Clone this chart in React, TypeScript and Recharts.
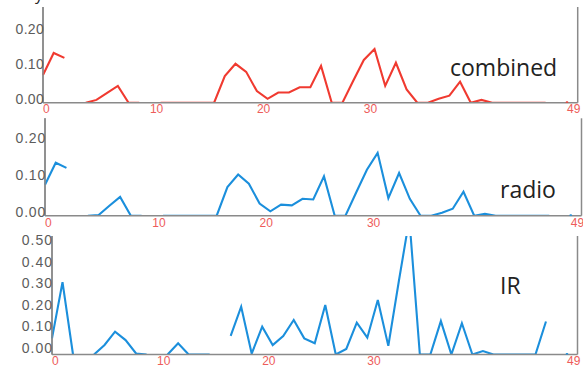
import React from "react";
import { LineChart, Line, XAxis, YAxis, ReferenceLine } from "recharts";

// x categories (sample index 0..49)
const indices: number[] = Array.from({ length: 50 }, (_, i) => i);
const xTicks = [0, 10, 20, 30, 49];
const yTicksSmall = [0, 0.1, 0.2];
const yTicksIR = [0, 0.1, 0.2, 0.3, 0.4, 0.5];

const combined: (number | null)[] = [
  0.079, 0.142, 0.128, null, 0, 0.008, 0.028, 0.048, 0, 0,
  null, 0, 0, 0, 0, 0, 0, 0.076, 0.111, 0.088,
  0.033, 0.011, 0.029, 0.029, 0.044, 0.044, 0.105, 0, 0, 0.062,
  0.122, 0.153, 0.048, 0.114, 0.038, 0, 0, 0.011, 0.02, 0.06,
  0, 0.008, 0, 0, 0, 0, 0, 0, null, 0,
];

const radio: (number | null)[] = [
  0.084, 0.144, 0.13, null, 0, 0.002, 0.027, 0.051, 0, 0,
  null, 0, 0, 0, 0, 0, 0, 0.078, 0.112, 0.087,
  0.033, 0.012, 0.03, 0.028, 0.046, 0.044, 0.107, 0, 0, 0.063,
  0.125, 0.171, 0.048, 0.116, 0.046, 0, 0, 0.008, 0.019, 0.065,
  0, 0.005, 0, 0, 0, 0, 0, 0, null, 0,
];

const ir: (number | null)[] = [
  0.075, 0.336, 0, null, 0, 0.044, 0.106, 0.067, 0.005, 0,
  null, 0, 0.052, 0, 0, 0, null, 0.086, 0.222, 0.004,
  0.129, 0.044, 0.086, 0.16, 0.075, 0.052, 0.23, 0, 0.026, 0.148,
  0.078, 0.253, 0.04, 0.34, 0.63, 0, 0, 0.155, 0, 0.145,
  0, 0.016, 0, 0, 0, 0, 0, 0.153, null, 0,
];

const RED = "#f03a30";
const BLUE = "#1b8fdc";
const AXIS = "#8a8a8a";

const makeData = (vals: (number | null)[]) =>
  indices.map((i) => ({ i, v: vals[i] }));

const makeYTick = (dy: number, ls: number) => (props: any) => {
  const { x, y, payload } = props;
  return (
    <text
      x={x + 1}
      y={y + dy}
      textAnchor="end"
      fontFamily="Liberation Sans, Arial, sans-serif"
      fontSize={14}
      letterSpacing={ls}
      fill="#5c5c5c"
    >
      {Number(payload.value).toFixed(2)}
    </text>
  );
};

const makeXTick = (dy: number) => (props: any) => {
  const { x, y, payload } = props;
  return (
    <text
      x={x}
      y={y + dy}
      textAnchor="start"
      fontFamily="Liberation Sans, Arial, sans-serif"
      fontSize={12}
      fill="#ee5c5a"
    >
      {payload.value}
    </text>
  );
};

const makeDot = (color: string) => (props: any) => {
  const { cx, cy, index } = props;
  if (index !== 49 || cx == null || cy == null) return <g key={`d${index}`} />;
  return <circle key={`d${index}`} cx={cx} cy={cy} r={1.4} fill={color} stroke="none" />;
};

interface PanelProps {
  top: number;
  height: number;
  vals: (number | null)[];
  color: string;
  marginTop: number;
  marginRight: number;
  yWidth: number;
  xHeight: number;
  yMax: number;
  yTicks: number[];
  yDy: number;
  yLs: number;
  xDy: number;
}

const Panel = (p: PanelProps) => (
  <div style={{ position: "absolute", left: 0, top: p.top }}>
    <LineChart
      width={583}
      height={p.height}
      data={makeData(p.vals)}
      margin={{ top: p.marginTop, right: p.marginRight, left: 0, bottom: 0 }}
    >
      <XAxis
        dataKey="i"
        type="number"
        domain={[0, 50]}
        ticks={xTicks}
        interval={0}
        height={p.xHeight}
        axisLine={{ stroke: AXIS, strokeWidth: 1.5 }}
        tickLine={false}
        tickSize={0}
        tickMargin={0}
        tick={makeXTick(p.xDy)}
      />
      <YAxis
        type="number"
        domain={[0, p.yMax]}
        allowDataOverflow
        ticks={p.yTicks}
        interval={0}
        width={p.yWidth}
        axisLine={{ stroke: AXIS, strokeWidth: 1.5 }}
        tickLine={false}
        tickSize={0}
        tickMargin={0}
        tick={makeYTick(p.yDy, p.yLs)}
      />
      <ReferenceLine x={0} stroke={AXIS} strokeWidth={1.5} />
      <ReferenceLine x={50} stroke={AXIS} strokeWidth={1.5} />
      <Line
        type="linear"
        dataKey="v"
        stroke={p.color}
        strokeWidth={2.1}
        dot={makeDot(p.color)}
        activeDot={false}
        connectNulls={false}
        isAnimationActive={false}
      />
    </LineChart>
  </div>
);

export default function App() {
  return (
    <div
      style={{
        position: "absolute",
        left: 0,
        top: 0,
        width: 583,
        height: 368,
        overflow: "hidden",
        background: "#fff",
      }}
    >
      <Panel
        top={0}
        height={116}
        vals={combined}
        color={RED}
        marginTop={7}
        marginRight={5.3}
        yWidth={43}
        xHeight={13.3}
        yMax={0.273}
        yTicks={yTicksSmall}
        yDy={1}
        yLs={0.3}
        xDy={10}
      />
      <Panel
        top={116}
        height={114}
        vals={radio}
        color={BLUE}
        marginTop={2.3}
        marginRight={1.5}
        yWidth={45}
        xHeight={14.3}
        yMax={0.265}
        yTicks={yTicksSmall}
        yDy={1}
        yLs={0.8}
        xDy={11.3}
      />
      <Panel
        top={230}
        height={138}
        vals={ir}
        color={BLUE}
        marginTop={6}
        marginRight={5.5}
        yWidth={52}
        xHeight={13.5}
        yMax={0.55}
        yTicks={yTicksIR}
        yDy={-1.5}
        yLs={1}
        xDy={10.8}
      />
      <svg
        width={583}
        height={368}
        style={{ position: "absolute", left: 0, top: 0, pointerEvents: "none" }}
      >
        <g fontFamily="Open Sans, Noto Sans, sans-serif" fontSize={23} fill="#222">
          <text x={450} y={76}>combined</text>
          <text x={500} y={198}>radio</text>
          <text x={500} y={294}>IR</text>
        </g>
        <text x={35} y={-0.5} fontFamily="Open Sans, sans-serif" fontSize={16} fill="#222">
          y
        </text>
      </svg>
    </div>
  );
}
